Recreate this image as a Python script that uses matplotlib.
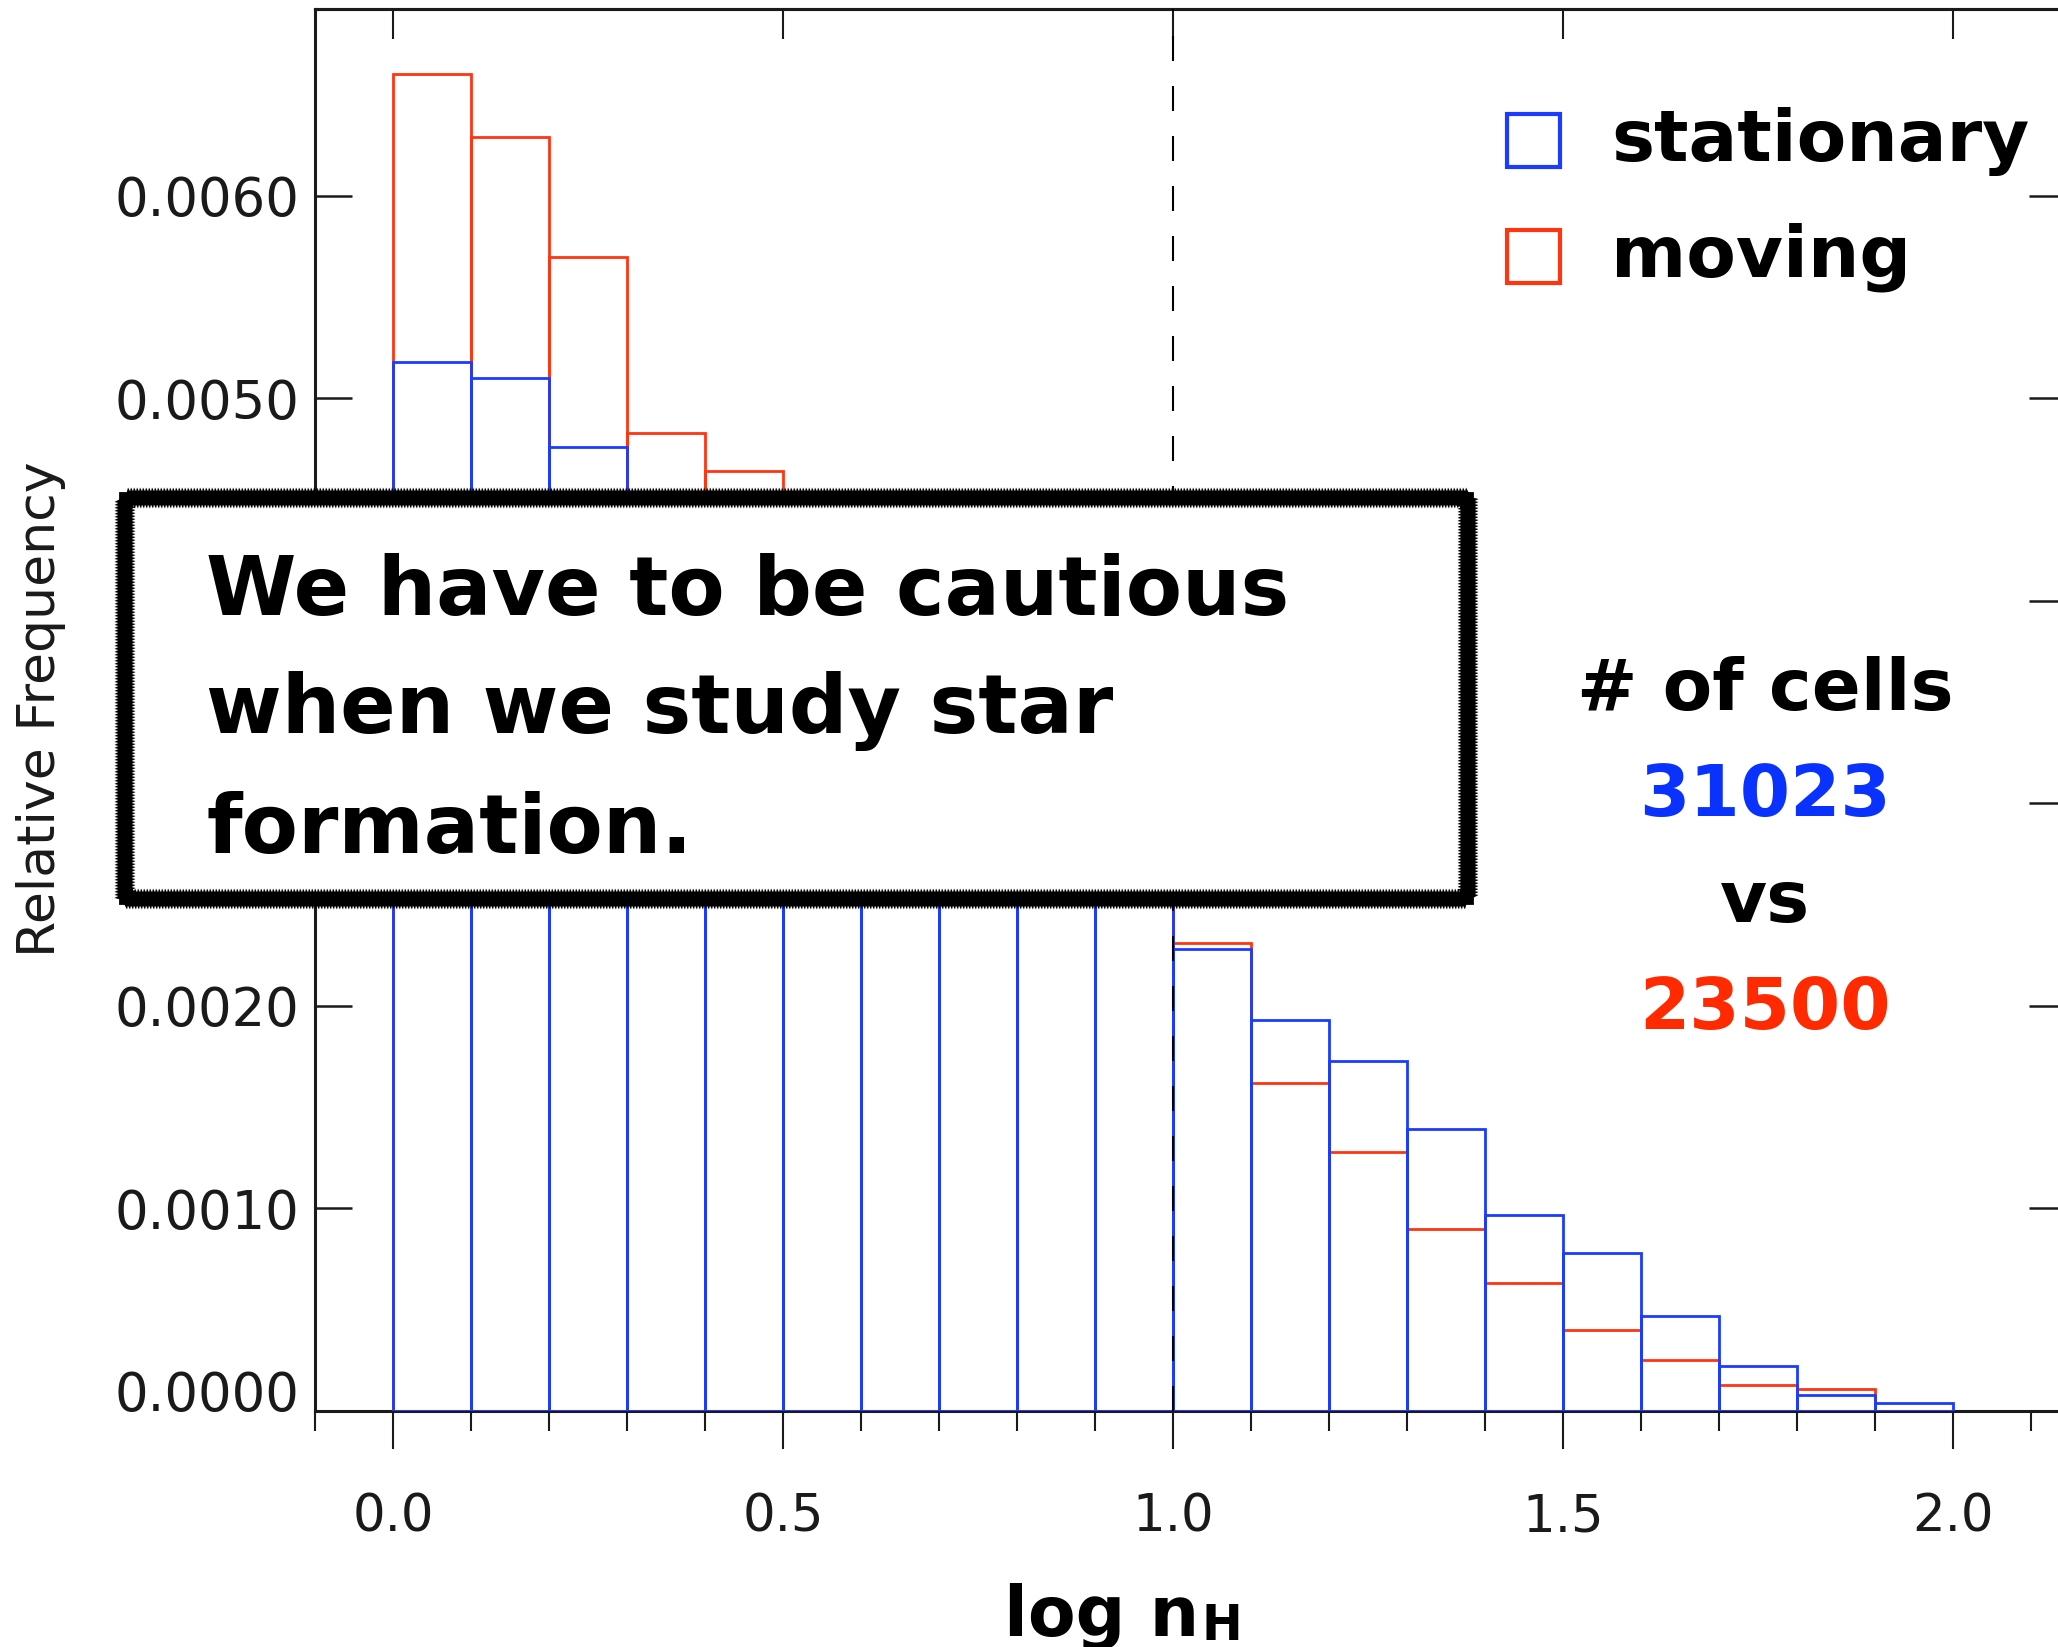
import matplotlib.pyplot as plt
from matplotlib.patches import Rectangle
from matplotlib.ticker import MultipleLocator, FormatStrFormatter

plt.rcParams['font.family'] = 'DejaVu Sans'

BLUE = '#1b3cff'
RED = '#ff3512'
TEXT_BLUE = '#0a32ff'
TEXT_RED = '#ff2a00'

# left edges of the log nH bins (width 0.1)
bin_left = [0.0, 0.1, 0.2, 0.3, 0.4, 0.5, 0.6, 0.7, 0.8, 0.9,
            1.0, 1.1, 1.2, 1.3, 1.4, 1.5, 1.6, 1.7, 1.8, 1.9]

# relative frequency per bin
stationary = [0.00518, 0.00510, 0.00476, 0.00440, 0.00405, 0.00372, 0.00340, 0.00310, 0.00285, 0.00262,
              0.00228, 0.00193, 0.00173, 0.00139, 0.00097, 0.00078, 0.00047, 0.00022, 0.00008, 0.00004]
moving = [0.00660, 0.00629, 0.00570, 0.00483, 0.00464, 0.00420, 0.00375, 0.00330, 0.00290, 0.00268,
          0.00231, 0.00162, 0.00128, 0.00090, 0.00063, 0.00040, 0.00025, 0.00013, 0.00011, 0.00000]

series_names = ['stationary', 'moving']
cell_counts = [31023, 23500]

box_lines = ['We have to be cautious', 'when we study star', 'formation.']

W, H = 2058, 1647


def fx(px):
    return px / W


def fy(py):
    return 1 - py / H


fig = plt.figure(figsize=(W / 100, H / 100), dpi=100)
ax = fig.add_axes([fx(315), fy(1411), (2066 - 315) / W, (1411 - 9.5) / H])

ax.bar(bin_left, moving, width=0.1, align='edge', fill=False, edgecolor=RED, lw=2.0, zorder=3)
ax.bar(bin_left, stationary, width=0.1, align='edge', fill=False, edgecolor=BLUE, lw=2.0, zorder=3.1)
ax.axvline(1.0, color='black', lw=1.5, ls=(0, (12, 12)), zorder=4)

ax.set_xlim(-0.1, 2.145)
ax.set_ylim(0, 0.00692)

ax.xaxis.set_major_locator(MultipleLocator(0.5))
ax.xaxis.set_minor_locator(MultipleLocator(0.1))
ax.xaxis.set_major_formatter(FormatStrFormatter('%.1f'))
ax.yaxis.set_major_locator(MultipleLocator(0.001))
ax.yaxis.set_major_formatter(FormatStrFormatter('%.4f'))

ax.tick_params(axis='x', which='major', direction='out', length=27.4, width=1.5,
               pad=31, labelsize=37, top=False, colors='#1a1a1a')
ax.tick_params(axis='x', which='minor', direction='out', length=14.5, width=1.5, top=False, color='#1a1a1a')
ax.tick_params(axis='y', direction='in', length=26.6, width=1.8, left=True, right=True,
               pad=11.5, labelsize=38, colors='#1a1a1a')

for sp in ax.spines.values():
    sp.set_linewidth(2.2)
    sp.set_color('#1a1a1a')

top = ax.secondary_xaxis('top')
top.set_xticks([0.0, 0.5, 1.0, 1.5, 2.0])
top.tick_params(direction='in', length=21.6, width=1.5, labeltop=False, color='#1a1a1a')
top.spines['top'].set_linewidth(2.2)

fig.canvas.draw()
for lbl in ax.get_yticklabels():
    if lbl.get_text() == '0.0000':
        lbl.set_va('baseline')

fig.text(fx(41), fy(709), 'Relative Frequency', rotation=90, ha='center', va='center',
         fontsize=37.5, color='#1a1a1a')

# x label: "log n" with a small bold H set by hand
fig.text(fx(1199), fy(1636), 'log n', ha='right', va='baseline', fontsize=50, fontweight='bold')
fig.text(fx(1201), fy(1640), 'H', ha='left', va='baseline', fontsize=35, fontweight='bold')

# legend
for name, col, (top_px, base_px) in zip(series_names, [BLUE, RED], [(114, 161), (230, 277)]):
    fig.add_artist(Rectangle((fx(1507), fy(top_px + 53)), 53 / W, 53 / H, transform=fig.transFigure,
                             fill=False, edgecolor=col, lw=3))
    fig.text(fx(1611), fy(base_px), name, ha='left', va='baseline', fontsize=52, fontweight='bold')

# cell counts
fig.text(fx(1765), fy(710), '# of cells', ha='center', va='baseline', fontsize=52, fontweight='bold')
fig.text(fx(1765), fy(816), str(cell_counts[0]), ha='center', va='baseline', fontsize=52,
         fontweight='bold', color=TEXT_BLUE)
fig.text(fx(1765), fy(922), 'vs', ha='center', va='baseline', fontsize=52, fontweight='bold')
fig.text(fx(1765), fy(1029), str(cell_counts[1]), ha='center', va='baseline', fontsize=52,
         fontweight='bold', color=TEXT_RED)

# rough-edged callout box: a thick frame with a ragged outline over it
bx, by = fx(125), fy(899)
bw, bh = (1468 - 125) / W, (899 - 498) / H
box = Rectangle((bx, by), bw, bh, transform=fig.transFigure,
                facecolor='white', edgecolor='black', lw=8.5, zorder=10)
fig.add_artist(box)
rough = Rectangle((bx, by), bw, bh, transform=fig.transFigure,
                  fill=False, edgecolor='black', lw=4.5, zorder=10.5)
rough.set_sketch_params(scale=2.2, length=3, randomness=1)
fig.add_artist(rough)

for line, base_px in zip(box_lines, [615, 733, 853]):
    fig.text(fx(206), fy(base_px), line, ha='left', va='baseline', fontsize=59,
             fontweight='bold', zorder=11)

fig.savefig('out.png', dpi=100)
